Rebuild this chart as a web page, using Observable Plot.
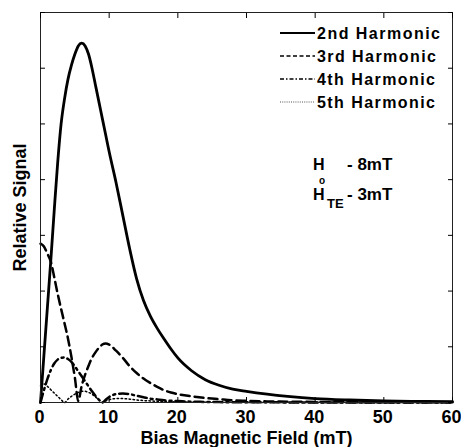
<!DOCTYPE html>
<html><head><meta charset="utf-8">
<script src="https://cdn.jsdelivr.net/npm/d3@7"></script>
<script src="https://cdn.jsdelivr.net/npm/@observablehq/plot@0.6"></script>
<style>body{margin:0;background:#fff}</style>
</head><body><div id="chart"></div><script>
// Bias magnetic field (mT)
const field = [0,0.5,1,1.5,2,2.5,3,3.5,4,4.5,5,5.5,6,6.5,7,7.5,8,8.5,9,9.5,10,11,12,13,14,15,16,17,18,19,20,22,24,26,28,30,33,36,40,45,50,55,60];
const harm2 = [0,0.85,1.7,2.55,3.45,4.3,5.0,5.45,5.8,6.05,6.25,6.4,6.45,6.4,6.25,6.0,5.7,5.4,5.1,4.8,4.5,3.95,3.35,2.75,2.22,1.83,1.55,1.33,1.14,0.96,0.8,0.57,0.41,0.31,0.24,0.2,0.15,0.11,0.07,0.045,0.03,0.02,0.015];
const harm3 = [2.85,2.8,2.67,2.53,2.25,1.95,1.68,1.42,1.15,0.82,0.45,0.03,0.3,0.5,0.66,0.8,0.9,0.98,1.04,1.06,1.04,0.93,0.8,0.65,0.53,0.43,0.35,0.28,0.22,0.18,0.15,0.11,0.08,0.06,0.04,0.03,0.02,0.015,0.01,0.007,0.005,0.004,0.003];
const harm4 = [0,0.22,0.42,0.58,0.7,0.77,0.8,0.81,0.78,0.73,0.65,0.56,0.47,0.38,0.29,0.2,0.12,0.05,0,0.05,0.1,0.15,0.16,0.15,0.12,0.095,0.07,0.055,0.04,0.03,0.025,0.015,0.01,0.007,0.005,0.004,0.003,0.002,0.002,0.001,0.001,0.001,0.001];
const harm5 = [0.3,0.33,0.29,0.23,0.17,0.11,0.05,0,0.06,0.11,0.15,0.18,0.2,0.2,0.18,0.15,0.1,0.05,0,0.03,0.05,0.07,0.07,0.06,0.045,0.035,0.028,0.02,0.016,0.012,0.01,0.007,0.005,0.004,0.003,0.002,0.001,0.001,0.001,0.001,0.001,0.001,0.001];
const seriesNames = ["2nd Harmonic","3rd Harmonic","4th Harmonic","5th Harmonic"];
const xTicks = [0,10,20,30,40,50,60];
const yTicks = [0,1,2,3,4,5,6,7];
const xLabel = "Bias Magnetic Field (mT)";
const yLabel = "Relative Signal";

const seriesValues = [harm2, harm3, harm4, harm5];
const dashes = [null, "9,5", "9,4,2,4", "1.5,2.5"];
const widths = [2.8, 2.5, 2.5, 1.5];

const font = "'Liberation Sans', Arial, sans-serif";
const lineMarks = seriesValues.map((vals, k) =>
  Plot.line(field.map((x, i) => ({x, y: vals[i]})), {
    x: "x", y: "y", stroke: "black", strokeWidth: widths[k],
    strokeDasharray: dashes[k], curve: "monotone-x"
  }));

const chart = Plot.plot({
  width: 461, height: 447,
  marginLeft: 40, marginRight: 9, marginTop: 12, marginBottom: 45,
  style: {fontFamily: font, background: "white", color: "black", overflow: "visible"},
  x: {domain: [0, 60]},
  y: {domain: [0, 7]},
  marks: [
    ...lineMarks,
    Plot.frame({stroke: "#222", strokeWidth: 1}),
    Plot.axisX(xTicks, {anchor: "bottom", tickSize: 0, tickPadding: 8, fontSize: 18, fontWeight: "bold", dx: -1, label: null}),
    Plot.axisX(xTicks, {anchor: "bottom", tickSize: -5, tickFormat: () => "", label: null}),
    Plot.axisX(xTicks, {anchor: "top", tickSize: -5, tickFormat: () => "", label: null}),
    Plot.axisY(yTicks, {anchor: "left", tickSize: -5, tickFormat: () => "", label: null}),
    Plot.axisY(yTicks, {anchor: "right", tickSize: -5, tickFormat: () => "", label: null}),
    Plot.text([xLabel], {frameAnchor: "bottom", dy: 41, fontSize: 18, fontWeight: "bold", lineAnchor: "bottom"}),
    Plot.text([yLabel], {frameAnchor: "left", rotate: -90, dx: -20, textAnchor: "middle", fontSize: 18, fontWeight: "bold"})
  ]
});
document.getElementById("chart").append(chart);

// legend
const svg = d3.select(chart);
const lg = svg.append("g").attr("font-family", font).attr("font-weight", "bold").attr("font-size", 16).attr("text-anchor", "start");
const rowY = [33, 56, 79, 102];
const legLen = [123, 119, 118, 118];
const legDash = [null, "4,2.5", "4,2,1.5,2", "1,1.2"];
const legW = [2.2, 1.6, 1.6, 1.1];
seriesNames.forEach((name, k) => {
  lg.append("line").attr("x1", 280).attr("x2", 315).attr("y1", rowY[k]).attr("y2", rowY[k])
    .attr("stroke", k === 3 ? "#555" : "black").attr("stroke-width", legW[k])
    .attr("stroke-dasharray", legDash[k]);
  lg.append("text").attr("x", 317).attr("y", rowY[k]).attr("dy", "0.36em")
    .attr("textLength", legLen[k]).attr("lengthAdjust", "spacing").text(name);
});

// annotation
const an = svg.append("g").attr("font-family", font).attr("font-weight", "bold").attr("font-size", 17).attr("text-anchor", "start");
an.append("text").attr("x", 313).attr("y", 170).attr("font-size", 16).text("H");
an.append("text").attr("x", 319).attr("y", 183.5).attr("font-size", 10).text("o");
an.append("text").attr("x", 347).attr("y", 170).text("- 8mT");
an.append("text").attr("x", 313).attr("y", 200).attr("font-size", 16).text("H");
an.append("text").attr("x", 327).attr("y", 208).attr("font-size", 13).text("TE");
an.append("text").attr("x", 347).attr("y", 200).text("- 3mT");
</script></body></html>
